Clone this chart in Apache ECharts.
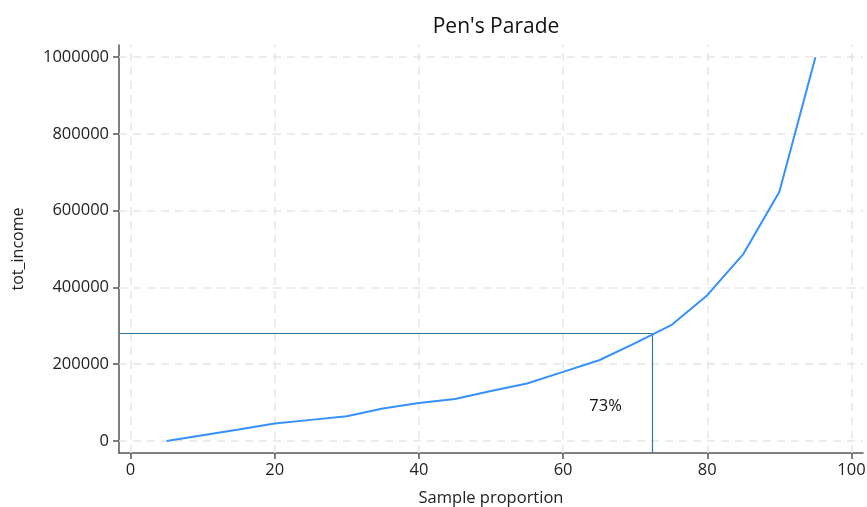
<!DOCTYPE html>
<html><head><meta charset="utf-8">
<script src="https://cdn.jsdelivr.net/npm/echarts@6/dist/echarts.min.js"></script>
<style>html,body{margin:0;padding:0;background:#fff}#c{width:867px;height:507px}</style>
</head><body><div id="c"></div>
<script>
const proportion = [5,10,15,20,25,30,35,40,45,50,55,60,65,70,75,80,85,90,95];
const totIncome = [0,15000,30000,45400,55000,64500,84500,99000,109500,130000,149700,180000,210400,255000,301700,380000,487000,649500,1000000];
const xTicks = [0,20,40,60,80,100];
const yTicks = [0,200000,400000,600000,800000,1000000];
const refX = 72.3, refY = 280800;
const refLabel = '73%';
const refLabelPos = [65.9, 90500];
const xMin = -1.6, xMax = 101.6, yMin = -31300, yMax = 1031800;

const font = 'Open Sans';
const chart = echarts.init(document.getElementById('c'));
chart.setOption({
  animation: false,
  title: {text: "Pen's Parade", left: 491, textAlign: 'center', top: 12,
    textStyle: {fontFamily: font, fontSize: 21, fontWeight: 'normal', color: '#111'}},
  grid: {left: 119, right: 4, top: 45, bottom: 54, outerBoundsMode: 'none', containLabel: false},
  xAxis: {type: 'value', min: xMin, max: xMax,
    name: 'Sample proportion', nameLocation: 'middle', nameGap: 37,
    nameTextStyle: {fontFamily: font, fontSize: 16.5, color: '#222'},
    axisLine: {show: true, onZero: false, lineStyle: {color: '#555', width: 1.5}},
    axisTick: {show: true, length: 6, customValues: xTicks, lineStyle: {color: '#555', width: 1.5}},
    axisLabel: {customValues: xTicks, fontFamily: font, fontSize: 16.5, color: '#222', margin: 9,
      formatter: v => String(v)},
    splitLine: {show: false}},
  yAxis: {type: 'value', min: yMin, max: yMax,
    name: 'tot_income', nameLocation: 'middle', nameGap: 93,
    nameTextStyle: {fontFamily: font, fontSize: 16, color: '#222'},
    axisLine: {show: true, onZero: false, lineStyle: {color: '#555', width: 1.5}},
    axisTick: {show: true, length: 6, customValues: yTicks, lineStyle: {color: '#555', width: 1.5}},
    axisLabel: {customValues: yTicks, fontFamily: font, fontSize: 16.5, color: '#222', margin: 10,
      formatter: v => String(v)},
    splitLine: {show: false}},
  series: [
    {type: 'line', data: [],
     markLine: {silent: true, symbol: 'none', label: {show: false},
       lineStyle: {color: '#e6e6e6', type: [8, 6], width: 1.5},
       data: xTicks.map(v => ({xAxis: v})).concat(yTicks.map(v => ({yAxis: v})))}},
    {type: 'line', data: proportion.map((p, i) => [p, totIncome[i]]),
     showSymbol: false, lineStyle: {color: '#3592fc', width: 2}, z: 5,
     markLine: {silent: true, symbol: 'none', label: {show: false},
       lineStyle: {color: '#2f78a3', type: 'solid', width: 1.2},
       data: [
         [{coord: [xMin, refY]}, {coord: [refX, refY]}],
         [{coord: [refX, yMin]}, {coord: [refX, refY]}]
       ]}},
    {type: 'scatter', data: [refLabelPos], symbolSize: 1, itemStyle: {color: 'rgba(0,0,0,0)', opacity: 1},
     silent: true, z: 6,
     label: {show: true, position: 'inside', formatter: refLabel, fontFamily: font, fontSize: 16.5, color: '#111', opacity: 1}}
  ]
});
</script></body></html>
